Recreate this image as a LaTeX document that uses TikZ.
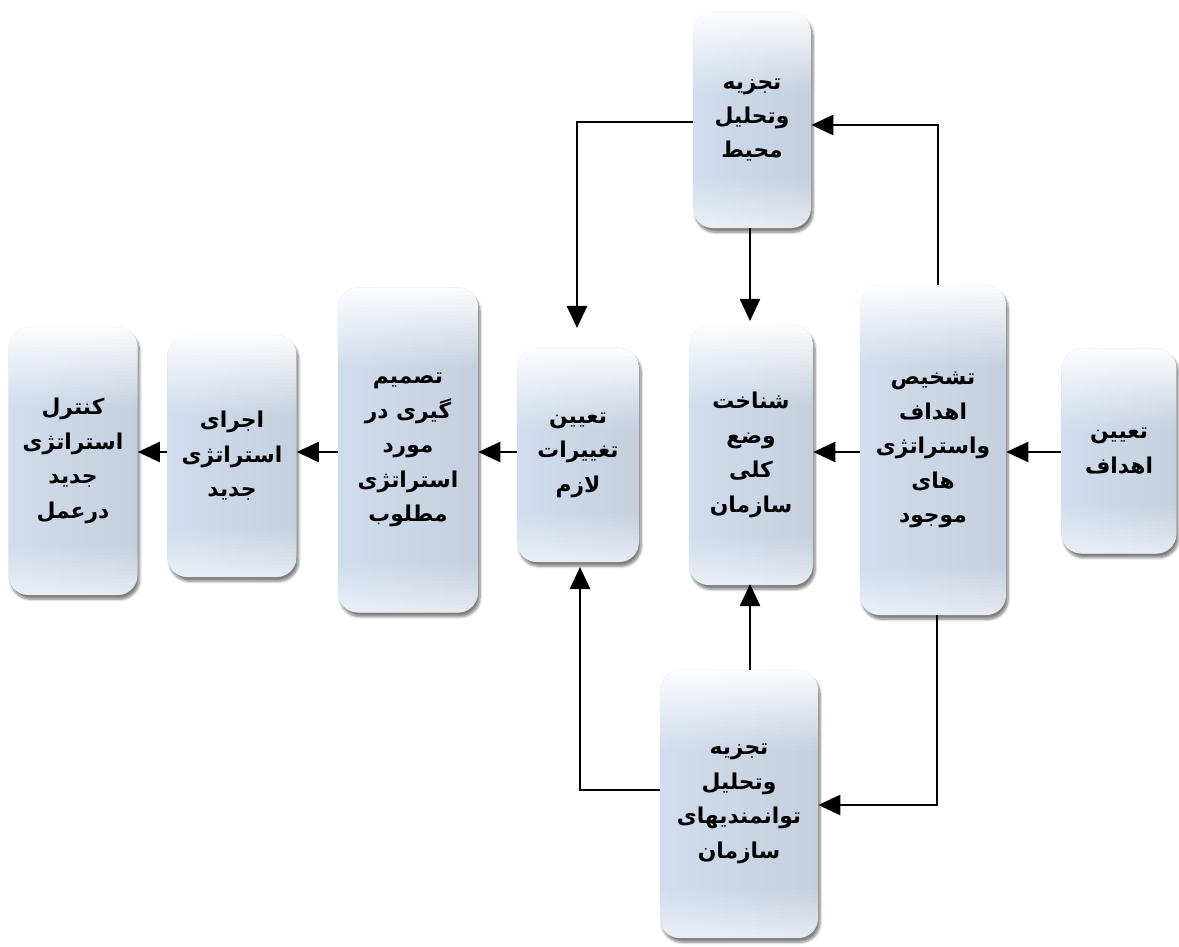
\documentclass[tikz,border=0pt]{standalone}
\usepackage{fontspec}
\usetikzlibrary{arrows.meta,shadows.blur}
\TeXXeTstate=1
\newfontfamily\persianfont[Script=Arabic]{DejaVu Sans}
\newcommand{\rl}[1]{\beginR#1\endR}
\definecolor{boxleft}{HTML}{D0DDEE}
\definecolor{boxmid}{HTML}{E8EEF6}
\definecolor{boxright}{HTML}{C5CFDE}
\begin{document}
\begin{tikzpicture}[x=0.025cm,y=-0.025cm,
  stage/.style={rounded corners=0.5cm, draw=none,
    left color=boxleft, middle color=boxmid, right color=boxright,
    blur shadow={shadow xshift=1.5pt, shadow yshift=-3pt, shadow blur steps=8, shadow opacity=50},
    align=center, font=\persianfont\bfseries\fontsize{15.5}{24.5}\selectfont,
    inner sep=2pt,
    path picture={
      % soft light on the top cap, in thin strips of falling opacity
      \foreach \i in {0,...,19}{
        \fill[sharp corners, white, opacity={0.92*(1-\i/20)}]
          ([yshift={-\i*0.1cm}]path picture bounding box.north west) rectangle
          ([yshift={-(\i+1)*0.1cm}]path picture bounding box.north east);
      }
      % weaker light on the bottom edge
      \foreach \i in {0,...,11}{
        \fill[sharp corners, white, opacity={0.55*(1-\i/12)}]
          ([yshift={\i*0.1cm}]path picture bounding box.south west) rectangle
          ([yshift={(\i+1)*0.1cm}]path picture bounding box.south east);
      }
    }},
  arr/.style={line width=1.8pt, -{Triangle[length=0.55cm,width=0.5cm]}}]

\useasboundingbox (0,0) rectangle (1179,947);

% stages of the strategic planning process
\node[stage, minimum width=2.95cm, minimum height=5.4cm] (mohit) at (752,120)
  {\rl{تجزیه}\\ \rl{وتحلیل}\\ \rl{محیط}};
\node[stage, minimum width=2.875cm, minimum height=5.125cm] (ahdaf) at (1119,451)
  {\rl{تعیین}\\ \rl{اهداف}};
\node[stage, minimum width=3.65cm, minimum height=8.25cm] (tashkhis) at (933,450)
  {\rl{تشخیص}\\ \rl{اهداف}\\ \rl{واستراتژی}\\ \rl{های}\\ \rl{موجود}};
\node[stage, minimum width=3.1cm, minimum height=6.5cm] (shenakht) at (751,455)
  {\rl{شناخت}\\ \rl{وضع}\\ \rl{کلی}\\ \rl{سازمان}};
\node[stage, minimum width=3.05cm, minimum height=5.35cm] (taghir) at (578,455)
  {\rl{تعیین}\\ \rl{تغییرات}\\ \rl{لازم}};
\node[stage, minimum width=3.5cm, minimum height=8.125cm] (tasmim) at (408,450)
  {\rl{تصمیم}\\ \rl{گیری در}\\ \rl{مورد}\\ \rl{استراتژی}\\ \rl{مطلوب}};
\node[stage, minimum width=3.225cm, minimum height=6.05cm] (ejra) at (232,456)
  {\rl{اجرای}\\ \rl{استراتژی}\\ \rl{جدید}};
\node[stage, minimum width=3.225cm, minimum height=6.7cm] (control) at (73,461)
  {\rl{کنترل}\\ \rl{استراتژی}\\ \rl{جدید}\\ \rl{درعمل}};
\node[stage, minimum width=3.95cm, minimum height=6.7cm] (tavan) at (739,804)
  {\rl{تجزیه}\\ \rl{وتحلیل}\\ \rl{توانمندیهای}\\ \rl{سازمان}};

% routing points of the connectors
\coordinate (row) at (0,452);
\coordinate (tr) at (938,125);
\coordinate (tl) at (577,122);
\coordinate (tlend) at (577,328);
\coordinate (mdtop) at (750,230);
\coordinate (mdend) at (750,321);
\coordinate (br) at (937,805);
\coordinate (bl) at (580,790);
\coordinate (blend) at (580,567);
\coordinate (mbend) at (750,584);

% main flow, right to left
\draw[arr] (ahdaf.west |- row) -- (tashkhis.east |- row);
\draw[arr] (tashkhis.west |- row) -- (shenakht.east |- row);
\draw[arr] (taghir.west |- row) -- (tasmim.east |- row);
\draw[arr] (tasmim.west |- row) -- (ejra.east |- row);
\draw[arr] (ejra.west |- row) -- (control.east |- row);

% environment analysis loop
\draw[arr] (tashkhis.north -| tr) -- (tr) -- (tr -| mohit.east);
\draw[arr] (mohit.west |- tl) -- (tl) -- (tlend);
\draw[arr] (mohit.south -| mdtop) -- (mdend);

% capability analysis loop
\draw[arr] (tashkhis.south -| br) -- (br) -- (br -| tavan.east);
\draw[arr] (tavan.west |- bl) -- (bl) -- (blend);
\draw[arr] (tavan.north -| mbend) -- (mbend);
\end{tikzpicture}
\end{document}
